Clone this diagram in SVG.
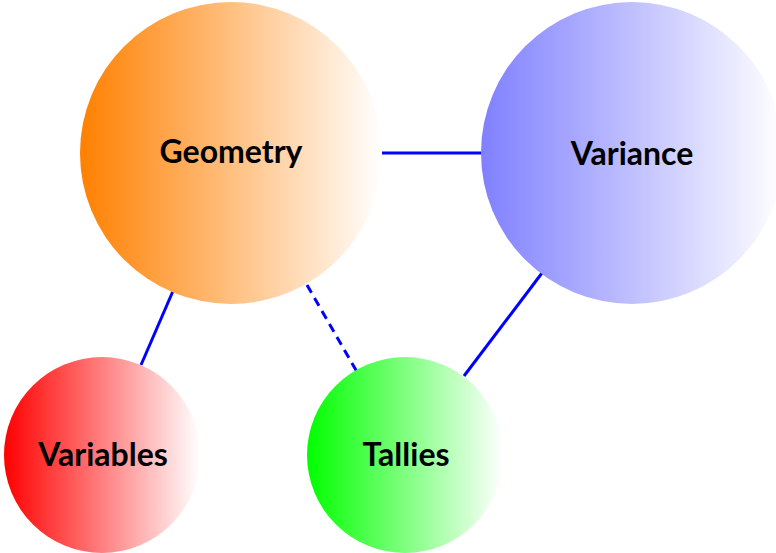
<svg xmlns="http://www.w3.org/2000/svg" width="776" height="553" viewBox="0 0 776 553">
<defs>
<linearGradient id="gO" x1="0" y1="0" x2="1" y2="0"><stop offset="0" stop-color="#ff8000"/><stop offset="1" stop-color="#ffffff"/></linearGradient>
<linearGradient id="gB" x1="0" y1="0" x2="1" y2="0"><stop offset="0" stop-color="#8080ff"/><stop offset="1" stop-color="#ffffff"/></linearGradient>
<linearGradient id="gR" x1="0" y1="0" x2="1" y2="0"><stop offset="0" stop-color="#ff0000"/><stop offset="1" stop-color="#ffffff"/></linearGradient>
<linearGradient id="gG" x1="0" y1="0" x2="1" y2="0"><stop offset="0" stop-color="#00ff00"/><stop offset="1" stop-color="#ffffff"/></linearGradient>
</defs>
<style>
.lbl{font-family:Lato,"DejaVu Sans",sans-serif;font-weight:bold;font-size:32px;fill:#000;text-anchor:middle}
.edge{stroke:#0000ff;stroke-width:3;fill:none}
.dash{stroke-dasharray:9,6}
</style>
<rect width="776" height="553" fill="#ffffff"/>
<g id="connectors">
<line class="edge" x1="382" y1="153" x2="481" y2="153"/>
<line class="edge" x1="173" y1="291" x2="141" y2="365"/>
<line class="edge dash" x1="307" y1="285" x2="357" y2="372"/>
<line class="edge" x1="542" y1="273" x2="464" y2="376"/>
</g>
<g id="geometry"><circle cx="231" cy="153" r="151" fill="url(#gO)"/><text class="lbl" x="231" y="163">Geometry</text></g>
<g id="variance"><circle cx="632" cy="153" r="151" fill="url(#gB)"/><text class="lbl" x="632" y="165">Variance</text></g>
<g id="variables"><circle cx="102" cy="455" r="98" fill="url(#gR)"/><text class="lbl" x="103" y="466">Variables</text></g>
<g id="tallies"><circle cx="405" cy="455" r="98" fill="url(#gG)"/><text class="lbl" x="406" y="466">Tallies</text></g>
</svg>
